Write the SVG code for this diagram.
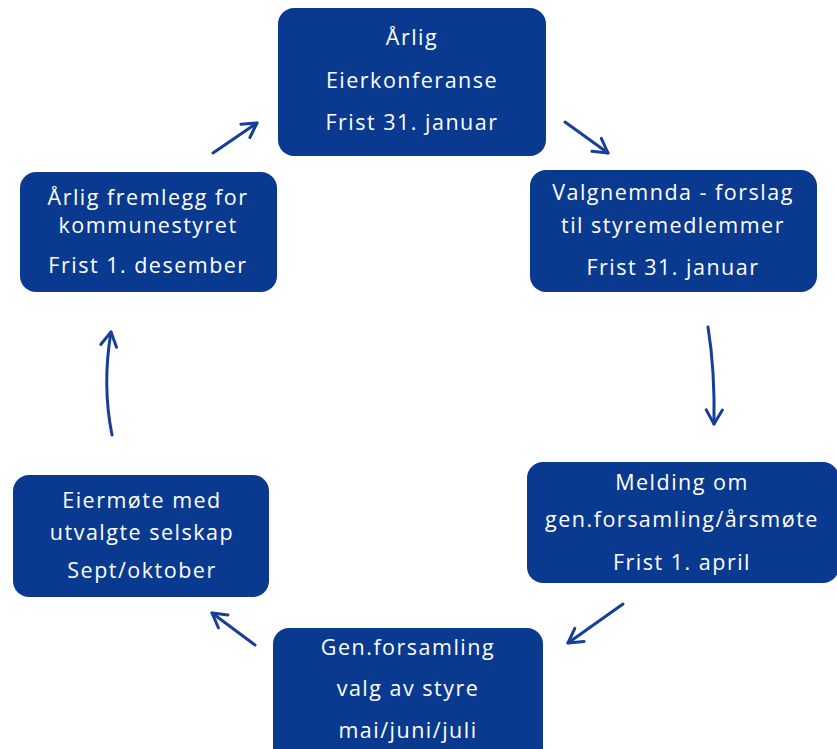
<svg xmlns="http://www.w3.org/2000/svg" width="837" height="749" viewBox="0 0 837 749">
<style>
.box{fill:#0a3a8f;}
.t{font-family:"Open Sans","Liberation Sans",sans-serif;font-size:21.5px;fill:#ffffff;text-anchor:middle;letter-spacing:1.5px;}
.c{fill:none;stroke:#173f98;stroke-width:3;stroke-linecap:round;stroke-linejoin:round;}
</style>
<defs>
<marker id="ah" viewBox="0 0 20 20" refX="18" refY="10" markerWidth="20" markerHeight="20" markerUnits="userSpaceOnUse" orient="auto">
<path d="M4,2 L18,10 L4,18" fill="none" stroke="#173f98" stroke-width="3" stroke-linecap="round" stroke-linejoin="round"/>
</marker>
</defs>
<rect width="837" height="749" fill="#ffffff"/>
<g id="n1">
<rect class="box" x="278" y="8" width="268" height="148" rx="16"/>
<text class="t" x="412" y="45">Årlig</text>
<text class="t" x="412" y="88">Eierkonferanse</text>
<text class="t" x="412" y="130">Frist 31. januar</text>
</g>
<g id="n2">
<rect class="box" x="530" y="170" width="287" height="122" rx="16"/>
<text class="t" x="673" y="200">Valgnemnda - forslag</text>
<text class="t" x="673" y="233">til styremedlemmer</text>
<text class="t" x="673" y="275">Frist 31. januar</text>
</g>
<g id="n3">
<rect class="box" x="527" y="462" width="312" height="121" rx="16"/>
<text class="t" x="682" y="490">Melding om</text>
<text class="t" x="682" y="527">gen.forsamling/årsmøte</text>
<text class="t" x="682" y="570">Frist 1. april</text>
</g>
<g id="n4">
<rect class="box" x="273" y="628" width="270" height="140" rx="16"/>
<text class="t" x="408" y="655">Gen.forsamling</text>
<text class="t" x="408" y="696">valg av styre</text>
<text class="t" x="408" y="738">mai/juni/juli</text>
</g>
<g id="n5">
<rect class="box" x="13" y="475" width="256" height="122" rx="16"/>
<text class="t" x="142" y="508">Eiermøte med</text>
<text class="t" x="142" y="540">utvalgte selskap</text>
<text class="t" x="142" y="578">Sept/oktober</text>
</g>
<g id="n6">
<rect class="box" x="20" y="172" width="257" height="120" rx="16"/>
<text class="t" x="148" y="205">Årlig fremlegg for</text>
<text class="t" x="148" y="233">kommunestyret</text>
<text class="t" x="148" y="273">Frist 1. desember</text>
</g>
<g id="connectors">
<path class="c" d="M213,153 L257,123" marker-end="url(#ah)"/>
<path class="c" d="M565,122 L608,153" marker-end="url(#ah)"/>
<path class="c" d="M708,327 Q715,370 714,424" marker-end="url(#ah)"/>
<path class="c" d="M623,604 L568,643" marker-end="url(#ah)"/>
<path class="c" d="M255,645 L212,613" marker-end="url(#ah)"/>
<path class="c" d="M112,435 Q102,385 111,332" marker-end="url(#ah)"/>
</g>
</svg>
